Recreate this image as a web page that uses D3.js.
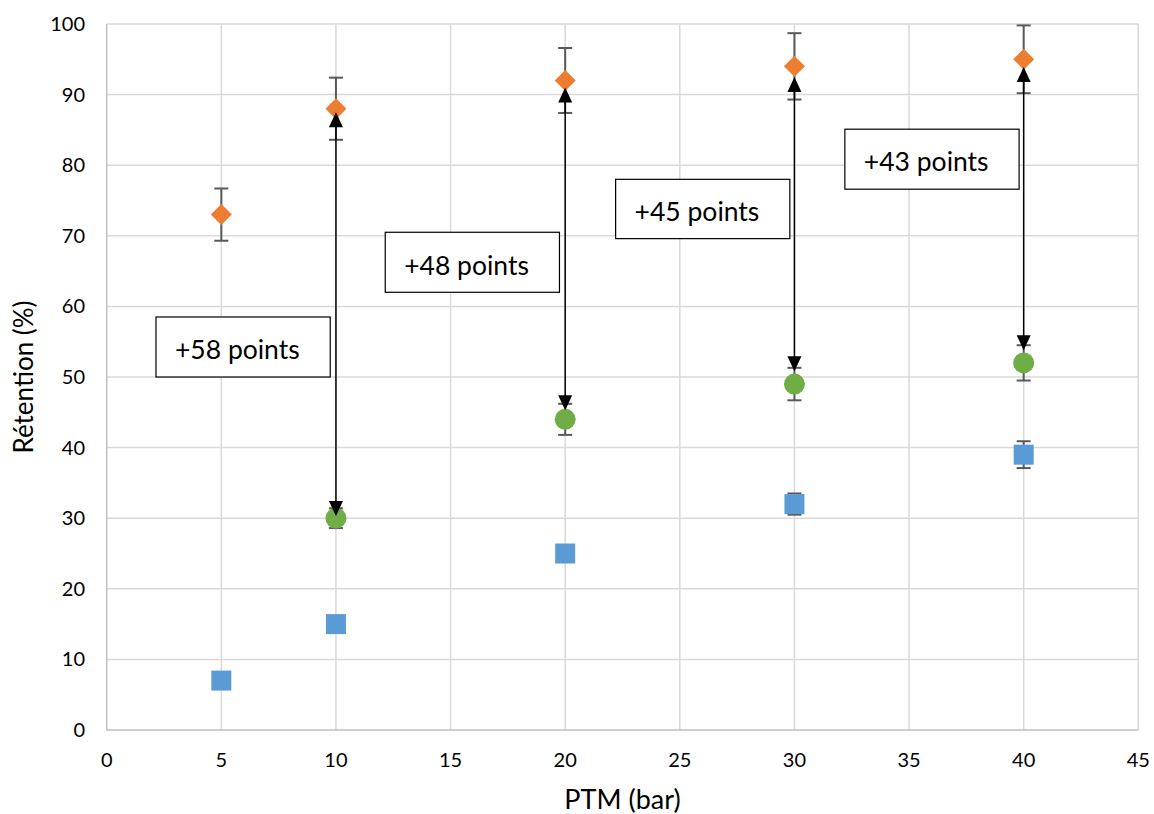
<!DOCTYPE html>
<html><head><meta charset="utf-8">
<script src="https://cdn.jsdelivr.net/npm/d3@7"></script>
<style>body{margin:0;background:#fff}svg{display:block}text{font-family:Lato,"Open Sans",sans-serif}</style>
</head><body>
<svg id="c" width="1154" height="814"></svg>
<script>
const xTicks=[0,5,10,15,20,25,30,35,40,45];
const yTicks=[0,10,20,30,40,50,60,70,80,90,100];
const orangeX=[5,10,20,30,40];
const orangeY=[73,88,92,94,95];
const orangeErr=[3.7,4.4,4.6,4.7,4.8];
const greenX=[10,20,30,40];
const greenY=[30,44,49,52];
const greenErr=[1.4,2.2,2.3,2.5];
const blueX=[5,10,20,30,40];
const blueY=[7,15,25,32,39];
const blueErr=[0,0,0,1.5,1.9];
const arrowX=[10,20,30,40];
const arrowLow=[30.3,45.3,50.8,53.8];
const arrowHigh=[87.5,91,92.5,93.9];
const labelText=["+58 points","+48 points","+45 points","+43 points"];
const labelX0=[2.15,12.15,22.2,32.2];
const labelX1=[9.75,19.75,29.8,39.8];
const labelY0=[50,62,69.6,76.6];
const labelY1=[58.5,70.5,78,85.1];

const svg=d3.select("#c");
const x=d3.scaleLinear().domain([0,45]).range([106.7,1138.3]);
const y=d3.scaleLinear().domain([0,100]).range([730,24]);

// grid
svg.append("g").selectAll("line").data(yTicks.slice(1)).join("line")
 .attr("x1",x(0)).attr("x2",x(45)).attr("y1",d=>y(d)).attr("y2",d=>y(d))
 .attr("stroke","#d9d9d9").attr("stroke-width",1.5);
svg.append("g").selectAll("line").data(xTicks.slice(1)).join("line")
 .attr("x1",d=>x(d)).attr("x2",d=>x(d)).attr("y1",y(0)).attr("y2",y(100))
 .attr("stroke","#d9d9d9").attr("stroke-width",1.5);
// axes lines
svg.append("line").attr("x1",x(0)).attr("x2",x(45)).attr("y1",y(0)).attr("y2",y(0)).attr("stroke","#bfbfbf").attr("stroke-width",1.5);
svg.append("line").attr("x1",x(0)).attr("x2",x(0)).attr("y1",y(0)).attr("y2",y(100)).attr("stroke","#bfbfbf").attr("stroke-width",1.5);

// tick labels
svg.append("g").selectAll("text").data(yTicks).join("text")
 .attr("x",85).attr("y",d=>y(d)).attr("dy","0.35em").attr("text-anchor","end")
 .attr("font-size",20).attr("fill","#000").text(d=>d);
svg.append("g").selectAll("text").data(xTicks).join("text")
 .attr("x",d=>x(d)).attr("y",767).attr("text-anchor","middle")
 .attr("font-size",20).attr("fill","#000").text(d=>d);
svg.append("text").attr("x",x(22.5)).attr("y",809).attr("text-anchor","middle").attr("font-size",27).text("PTM (bar)");
svg.append("text").attr("transform",`translate(33,${y(50)}) rotate(-90)`).attr("text-anchor","middle").attr("font-size",26).text("Rétention (%)");

// error bars
function errBars(xs,ys,es){
 const g=svg.append("g").attr("stroke","#595959").attr("stroke-width",2);
 xs.forEach((xv,i)=>{
  if(!es[i])return;
  const px=x(xv),t=y(ys[i]+es[i]),b=y(ys[i]-es[i]);
  g.append("line").attr("x1",px).attr("x2",px).attr("y1",t).attr("y2",b);
  g.append("line").attr("x1",px-7).attr("x2",px+7).attr("y1",t).attr("y2",t);
  g.append("line").attr("x1",px-7).attr("x2",px+7).attr("y1",b).attr("y2",b);
 });
}
errBars(orangeX,orangeY,orangeErr);
errBars(greenX,greenY,greenErr);
errBars(blueX,blueY,blueErr);

// markers
svg.append("g").selectAll("rect").data(blueX).join("rect")
 .attr("x",(d,i)=>x(d)-10).attr("y",(d,i)=>y(blueY[i])-10).attr("width",20).attr("height",20)
 .attr("fill","#5B9BD5");
svg.append("g").selectAll("circle").data(greenX).join("circle")
 .attr("cx",d=>x(d)).attr("cy",(d,i)=>y(greenY[i])).attr("r",10.5).attr("fill","#70AD47");
svg.append("g").selectAll("path").data(orangeX).join("path")
 .attr("transform",(d,i)=>`translate(${x(d)},${y(orangeY[i])})`)
 .attr("d","M0,-10.5L10.5,0L0,10.5L-10.5,0Z").attr("fill","#ED7D31");

// arrows
const ag=svg.append("g");
arrowX.forEach((xv,i)=>{
 const px=x(xv),lo=y(arrowLow[i]),hi=y(arrowHigh[i]);
 ag.append("line").attr("x1",px).attr("x2",px).attr("y1",hi+10).attr("y2",lo-10).attr("stroke","#000").attr("stroke-width",1.5);
 ag.append("path").attr("d",`M${px},${hi}L${px+7},${hi+15}L${px-7},${hi+15}Z`).attr("fill","#000");
 ag.append("path").attr("d",`M${px},${lo}L${px+7},${lo-15}L${px-7},${lo-15}Z`).attr("fill","#000");
});

// labels
const lg=svg.append("g");
labelText.forEach((t,i)=>{
 const x0=x(labelX0[i]),x1=x(labelX1[i]),yt=y(labelY1[i]),yb=y(labelY0[i]);
 lg.append("rect").attr("x",x0).attr("y",yt).attr("width",x1-x0).attr("height",yb-yt)
  .attr("fill","#fff").attr("stroke","#000").attr("stroke-width",1.2);
 lg.append("text").attr("x",x0+19).attr("y",(yt+yb)/2+3).attr("dy","0.35em")
  .attr("font-size",26.5).attr("fill","#000").text(t);
});
</script>
</body></html>
